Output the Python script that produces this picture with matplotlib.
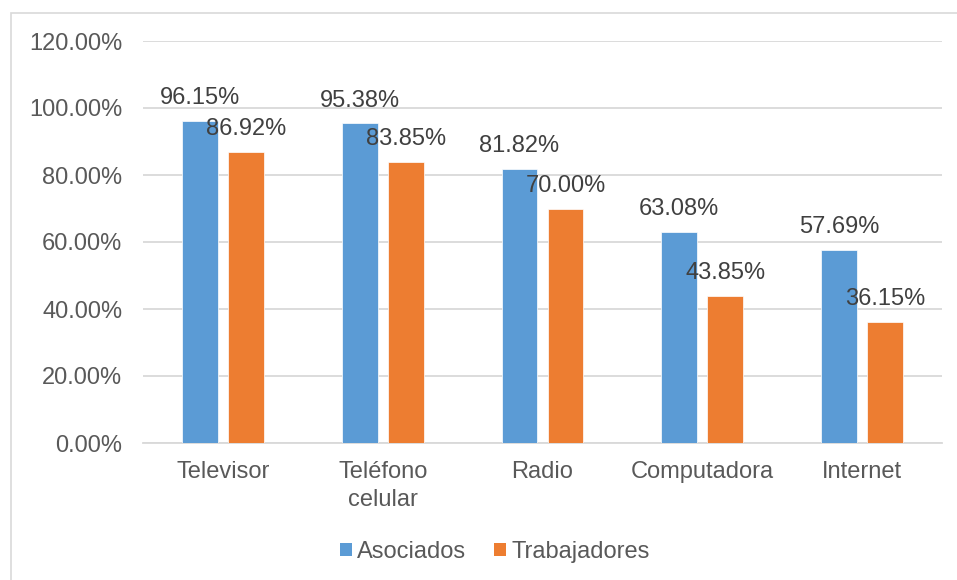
import matplotlib.pyplot as plt
import numpy as np
from matplotlib.patches import Patch, Rectangle

plt.rcParams['font.family'] = ['Liberation Sans', 'DejaVu Sans']

# Data
categories = ['Televisor', 'Teléfono\ncelular', 'Radio', 'Computadora', 'Internet']
asociados = [96.15, 95.38, 81.82, 63.08, 57.69]
trabajadores = [86.92, 83.85, 70.00, 43.85, 36.15]
series_names = ['Asociados', 'Trabajadores']
yticks = [0, 20, 40, 60, 80, 100, 120]

blue = '#5B9BD5'
orange = '#ED7D31'
text_col = '#595959'
grid_col = '#D9D9D9'

fig = plt.figure(figsize=(9.57, 5.80), dpi=100)
ax = fig.add_axes([143 / 957, 1 - 443 / 580, 799 / 957, 402 / 580])

x = np.arange(len(categories))
w = 0.225
off = 0.144
b1 = ax.bar(x - off, asociados, w, color=blue, edgecolor='white', linewidth=0.5, zorder=3)
b2 = ax.bar(x + off, trabajadores, w, color=orange, edgecolor='white', linewidth=0.5, zorder=3)

for bars, vals in [(b1, asociados), (b2, trabajadores)]:
    for rect, v in zip(bars, vals):
        ax.annotate(f'{v:.2f}%', (rect.get_x() + rect.get_width() / 2, v),
                    xytext=(0, 16.5), textcoords='offset points',
                    ha='center', va='center', fontsize=17, color='#404040', zorder=4)

ax.set_xlim(-0.5, len(categories) - 0.5)
ax.set_ylim(0, 120)
ax.set_yticks(yticks)
ax.set_yticklabels([f'{t:.2f}%' for t in yticks])
ax.set_xticks(x)
ax.set_xticklabels(categories, linespacing=1.35)
ax.tick_params(axis='y', length=0, pad=15, labelsize=17, labelcolor=text_col)
ax.tick_params(axis='x', length=0, pad=13, labelsize=17, labelcolor=text_col)
ax.grid(axis='y', color=grid_col, linewidth=1.3, zorder=0)
for s in ['top', 'right', 'left']:
    ax.spines[s].set_visible(False)
ax.spines['bottom'].set_color(grid_col)
ax.spines['bottom'].set_linewidth(1.3)

handles = [Patch(facecolor=blue), Patch(facecolor=orange)]
fig.legend(handles, series_names, loc='center', bbox_to_anchor=(495 / 957, 1 - 552 / 580),
           ncol=2, frameon=False, fontsize=17, labelcolor=text_col,
           handlelength=0.51, handleheight=0.51, handletextpad=0.21, columnspacing=1.19)

# chart border
fig.patches.append(Rectangle((10.5 / 957, -0.01), 1.0, (580 - 12.5) / 580 + 0.01,
                             transform=fig.transFigure, fill=False,
                             edgecolor='#D9D9D9', linewidth=1.2))

fig.savefig('out.png', dpi=100)
